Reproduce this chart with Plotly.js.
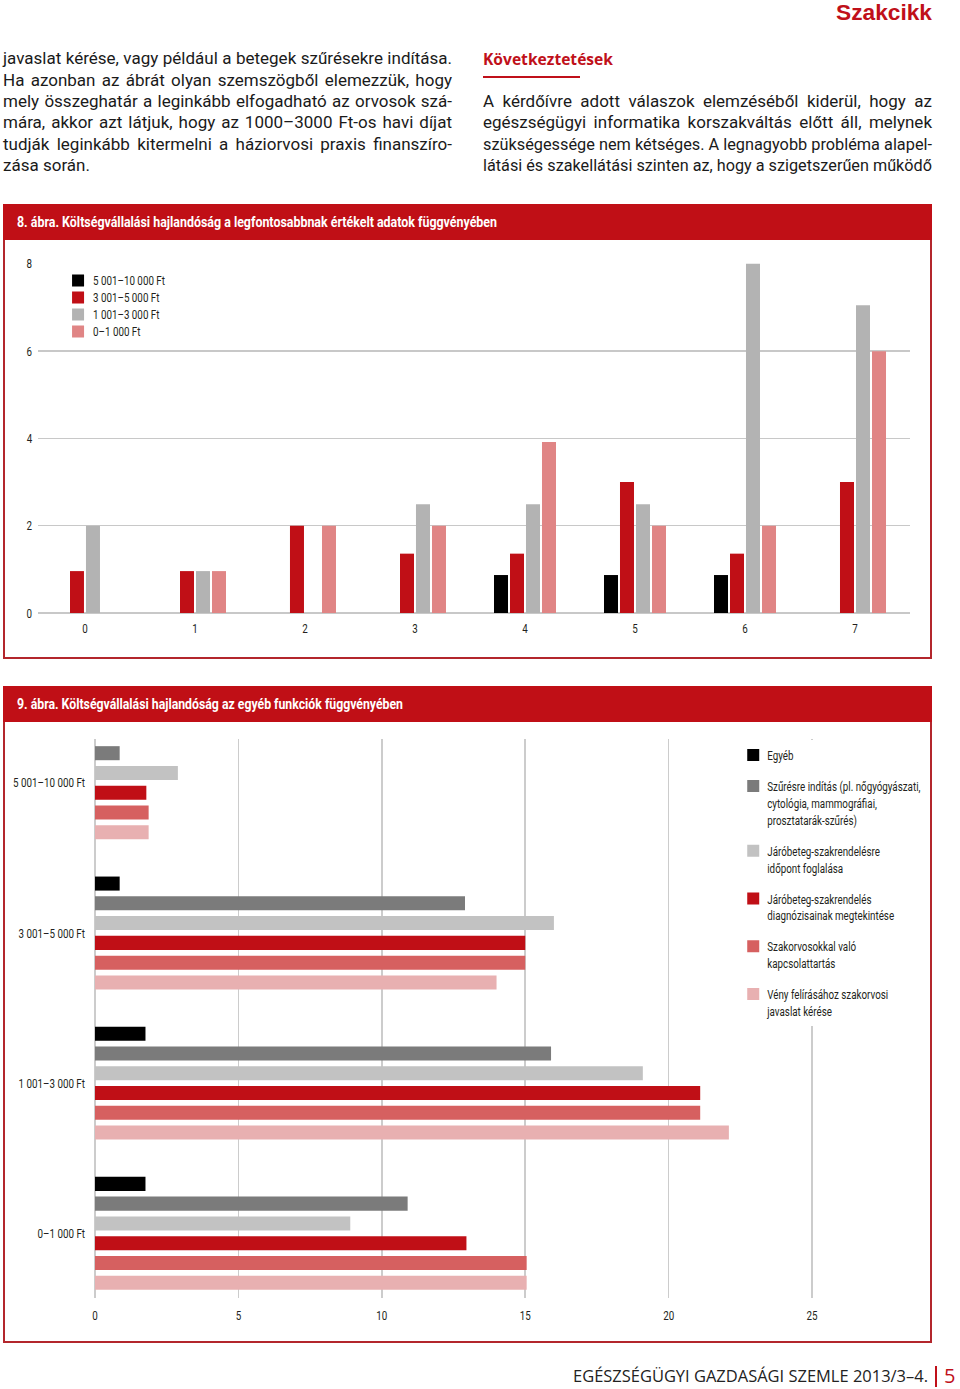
<!DOCTYPE html>
<html>
<head>
<meta charset="utf-8">
<script src="https://cdn.plot.ly/plotly-3.0.1.min.js"></script>
<style>
  html, body { margin:0; padding:0; background:#fff; }
  #page { position:relative; width:960px; height:1389px; overflow:hidden; background:#fff; }
  .t { position:absolute; white-space:nowrap; display:inline-block; transform-origin:0 50%; line-height:20px; height:20px; }
  .body { font-family:"Roboto","Noto Sans",sans-serif; font-size:17px; color:#1a1a1a; }
  .cond { font-family:"Roboto","Noto Sans",sans-serif; }
  .box { position:absolute; border:2px solid #b3262c; box-sizing:border-box; }
  .hdr { position:absolute; background:#c00f16; }
  .chart { position:absolute; }
</style>
</head>
<body>
<div id="page">
  <div class="t fit" data-w="96" style="left:836px; top:2px; height:22px; line-height:22px; font-family:'Liberation Sans','Open Sans',sans-serif; font-weight:700; font-size:22px; color:#c0101a;">Szakcikk</div>

  <div class="t body just" data-w="449" style="left:3px; top:48px;">javaslat kérése, vagy például a betegek szűrésekre indítása.</div>
  <div class="t body just" data-w="449" style="left:3px; top:70px;">Ha azonban az ábrát olyan szemszögből elemezzük, hogy</div>
  <div class="t body just" data-w="449" style="left:3px; top:91px;">mely összeghatár a leginkább elfogadható az orvosok szá-</div>
  <div class="t body just" data-w="449" style="left:3px; top:112px;">mára, akkor azt látjuk, hogy az 1000–3000 Ft-os havi díjat</div>
  <div class="t body just" data-w="449" style="left:3px; top:134px;">tudják leginkább kitermelni a háziorvosi praxis finanszíro-</div>
  <div class="t body" style="left:3px; top:155px;">zása során.</div>

  <div class="t fit" data-w="130" style="left:483px; top:49px; font-family:'Open Sans',sans-serif; font-weight:700; font-size:16px; color:#c0101a;">Következtetések</div>
  <div style="position:absolute; left:483px; top:76px; width:97px; height:2px; background:#c0101a;"></div>
  <div class="t body just" data-w="449" style="left:483px; top:91px;">A kérdőívre adott válaszok elemzéséből kiderül, hogy az</div>
  <div class="t body just" data-w="449" style="left:483px; top:112px;">egészségügyi informatika korszakváltás előtt áll, melynek</div>
  <div class="t body just" data-w="449" style="left:483px; top:134px;">szükségessége nem kétséges. A legnagyobb probléma alapel-</div>
  <div class="t body just" data-w="449" style="left:483px; top:155px;">látási és szakellátási szinten az, hogy a szigetszerűen működő</div>

  <!-- figure 8 -->
  <div class="box" style="left:3px; top:204px; width:929px; height:455px;"></div>
  <div class="hdr" style="left:3px; top:204px; width:929px; height:36px;"></div>
  <div class="t cond fit" data-w="480" style="left:17px; top:212px; font-weight:700; font-size:15px; color:#fff;">8. ábra. Költségvállalási hajlandóság a legfontosabbnak értékelt adatok függvényében</div>
  <div id="chart8" class="chart" style="left:5px; top:240px; width:925px; height:417px;"></div>

  <!-- figure 9 -->
  <div class="box" style="left:3px; top:686px; width:929px; height:657px;"></div>
  <div class="hdr" style="left:3px; top:686px; width:929px; height:36px;"></div>
  <div class="t cond fit" data-w="386" style="left:17px; top:694px; font-weight:700; font-size:15px; color:#fff;">9. ábra. Költségvállalási hajlandóság az egyéb funkciók függvényében</div>
  <div id="chart9" class="chart" style="left:5px; top:722px; width:925px; height:619px;"></div>

  <!-- footer -->
  <div class="t fit" data-w="355" style="left:573px; top:1365px; height:22px; line-height:22px; font-family:'Open Sans',sans-serif; font-size:17px; color:#222;">EGÉSZSÉGÜGYI GAZDASÁGI SZEMLE 2013/3–4.</div>
  <div style="position:absolute; left:935px; top:1366px; width:2px; height:21px; background:#c0101a;"></div>
  <div class="t" style="left:944px; top:1364px; height:24px; line-height:24px; font-family:'Open Sans',sans-serif; font-size:20px; color:#c0101a;">5</div>
</div>

<script>
// ---------- Figure 8 data ----------
var cats8 = [0, 1, 2, 3, 4, 5, 6, 7];
var names8 = ['5 001–10 000 Ft', '3 001–5 000 Ft', '1 001–3 000 Ft', '0–1 000 Ft'];
var s8_5001_10000 = [0, 0, 0, 0, 0.87, 0.87, 0.87, 0];
var s8_3001_5000  = [0.96, 0.96, 2, 1.36, 1.36, 3, 1.36, 3];
var s8_1001_3000  = [2, 0.96, 0, 2.49, 2.49, 2.49, 8, 7.05];
var s8_0_1000     = [0, 0.96, 2, 2, 3.92, 2, 2, 6];
var colors8 = ['#000000', '#c00f16', '#b3b3b3', '#e08585'];

// ---------- Figure 9 data ----------
var cats9 = ['5 001–10 000 Ft', '3 001–5 000 Ft', '1 001–3 000 Ft', '0–1 000 Ft'];
var names9 = [
  'Egyéb',
  'Szűrésre indítás (pl. nőgyógyászati,<br>cytológia, mammográfiai,<br>prosztatarák-szűrés)',
  'Járóbeteg-szakrendelésre<br>időpont foglalása',
  'Járóbeteg-szakrendelés<br>diagnózisainak megtekintése',
  'Szakorvosokkal való<br>kapcsolattartás',
  'Vény felírásához szakorvosi<br>javaslat kérése'
];
var s9_egyeb     = [0, 0.86, 1.76, 1.76];
var s9_szures    = [0.86, 12.9, 15.9, 10.9];
var s9_idopont   = [2.89, 16.0, 19.1, 8.9];
var s9_diagnozis = [1.79, 15.0, 21.1, 12.95];
var s9_szakorvos = [1.87, 15.0, 21.1, 15.05];
var s9_veny      = [1.87, 14.0, 22.1, 15.05];
var colors9 = ['#000000', '#7b7b7b', '#c2c2c2', '#c00f16', '#d66060', '#e8b0b1'];

var FONT = 'Roboto, "Noto Sans", sans-serif';
var FS = 13;
var TXT = '#231f20';

var series8 = [s8_5001_10000, s8_3001_5000, s8_1001_3000, s8_0_1000];
var traces8 = series8.map(function (s, i) {
  return { type: 'bar', x: cats8, y: s, name: names8[i], marker: { color: colors8[i] }, hoverinfo: 'none' };
});
var layout8 = {
  width: 925, height: 417,
  margin: { l: 33, r: 20, t: 23, b: 44, autoexpand: false },
  paper_bgcolor: '#fff', plot_bgcolor: '#fff',
  barmode: 'group', bargap: 0.418, bargroupgap: 0.125,
  font: { family: FONT, size: FS, color: TXT },
  xaxis: { range: [-0.427, 7.5], tickvals: cats8, ticktext: cats8.map(String), showgrid: false, zeroline: false, showline: false, ticks: '', ticklabelstandoff: 6, tickfont: { family: FONT, size: FS, color: TXT } },
  yaxis: { range: [0, 8.02], tickvals: [0, 2, 4, 6, 8], showgrid: true, gridcolor: '#c8c8c8', gridwidth: 1.5, zeroline: true, zerolinecolor: '#c8c8c8', zerolinewidth: 1.5, showline: false, ticks: '', ticklabelstandoff: 5, tickfont: { family: FONT, size: FS, color: TXT } },
  showlegend: true,
  legend: { x: 0.023, y: 0.993, xanchor: 'left', yanchor: 'top', bgcolor: 'rgba(0,0,0,0)', font: { family: FONT, size: FS, color: TXT }, traceorder: 'normal' }
};

var series9 = [s9_egyeb, s9_szures, s9_idopont, s9_diagnozis, s9_szakorvos, s9_veny];
var traces9 = series9.map(function (s, i) {
  return { type: 'bar', orientation: 'h', y: cats9, x: s, name: names9[i], legendgroup: 'g' + i, marker: { color: colors9[i] }, hoverinfo: 'none' };
});
var layout9 = {
  width: 925, height: 619,
  margin: { l: 90, r: 23, t: 17, b: 43, autoexpand: false },
  paper_bgcolor: '#fff', plot_bgcolor: '#fff',
  barmode: 'group', bargap: 0.21, bargroupgap: 0.29,
  font: { family: FONT, size: FS, color: TXT },
  xaxis: { range: [0, 28.31], tickvals: [0, 5, 10, 15, 20, 25], showgrid: true, gridcolor: '#cccccc', gridwidth: 1.5, zeroline: true, zerolinecolor: '#cccccc', zerolinewidth: 1.5, showline: false, ticks: '', ticklabelstandoff: 8, tickfont: { family: FONT, size: FS, color: TXT } },
  yaxis: { type: 'category', categoryorder: 'array', categoryarray: cats9, range: [3.431, -0.292], showgrid: false, zeroline: false, showline: false, ticks: '', ticklabelstandoff: 9, tickfont: { family: FONT, size: FS, color: TXT } },
  showlegend: true,
  legend: { x: 0.786, y: 0.998, xanchor: 'left', yanchor: 'top', bgcolor: '#ffffff', valign: 'top', font: { family: FONT, size: FS, color: TXT }, traceorder: 'grouped', tracegroupgap: 11 }
};

var cfg = { staticPlot: true, displayModeBar: false };
var p8 = Plotly.newPlot('chart8', traces8, layout8, cfg);
var p9 = Plotly.newPlot('chart9', traces9, layout9, cfg);

// ---------- condensed look for chart texts (reference uses a condensed face) ----------
function measure(str, font) {
  var c = document.createElement('canvas').getContext('2d');
  c.font = font;
  return c.measureText(str).width;
}
function condenseTicks(gd, s) {
  gd.querySelectorAll('.xtick text, .ytick text').forEach(function (t) {
    var bb = t.getBBox();
    var anchor = t.getAttribute('text-anchor') || 'start';
    var ax = anchor === 'end' ? bb.x + bb.width : (anchor === 'middle' ? bb.x + bb.width / 2 : bb.x);
    var tr = t.getAttribute('transform') || '';
    t.setAttribute('transform', tr + ' translate(' + ax + ',0) scale(' + s + ',1) translate(' + (-ax) + ',0)');
  });
}
function condenseLegend(gd, s, textX, pitch) {
  gd.querySelectorAll('g.legend text.legendtext').forEach(function (t) {
    var x0 = parseFloat(t.getAttribute('x')) || 40;
    var tr = t.getAttribute('transform') || '';
    t.setAttribute('transform', tr + ' translate(' + textX + ',0) scale(' + s + ',1) translate(' + (-x0) + ',0)');
  });
  if (pitch) {
    var items = gd.querySelectorAll('g.legend g.traces');
    var y0 = null;
    items.forEach(function (g, i) {
      var tr = g.getAttribute('transform') || '';
      var m = tr.match(/translate\(\s*([-\d.]+)[ ,]+([-\d.]+)\s*\)/);
      if (!m) return;
      if (y0 === null) y0 = parseFloat(m[2]);
      g.setAttribute('transform', 'translate(' + m[1] + ',' + (y0 + i * pitch) + ')');
    });
  }
}

// ---------- html text fitting ----------
function fitAll() {
  document.querySelectorAll('.fit').forEach(function (el) {
    var w = parseFloat(el.getAttribute('data-w'));
    var nat = el.getBoundingClientRect().width;
    if (nat > 0) el.style.transform = 'scaleX(' + (w / nat) + ')';
  });
  document.querySelectorAll('.just').forEach(function (el) {
    var w = parseFloat(el.getAttribute('data-w'));
    var nat = el.getBoundingClientRect().width;
    var spaces = (el.textContent.match(/ /g) || []).length;
    var extra = w - nat;
    if (extra >= 0 && spaces > 0) {
      el.style.wordSpacing = (extra / spaces) + 'px';
    } else if (nat > 0) {
      el.style.transform = 'scaleX(' + (w / nat) + ')';
    }
  });
}

var fontsReady = (document.fonts && document.fonts.ready) ? document.fonts.ready : Promise.resolve();
Promise.all([p8, p9, fontsReady]).then(function () {
  fitAll();
  var s = 72 / measure('5 001–10 000 Ft', FS + 'px Roboto');
  var gd8 = document.getElementById('chart8');
  var gd9 = document.getElementById('chart9');
  condenseTicks(gd8, s);
  condenseTicks(gd9, s);
  condenseLegend(gd8, s, 35, 17);
  condenseLegend(gd9, s, 34, 0);
});
</script>
</body>
</html>
